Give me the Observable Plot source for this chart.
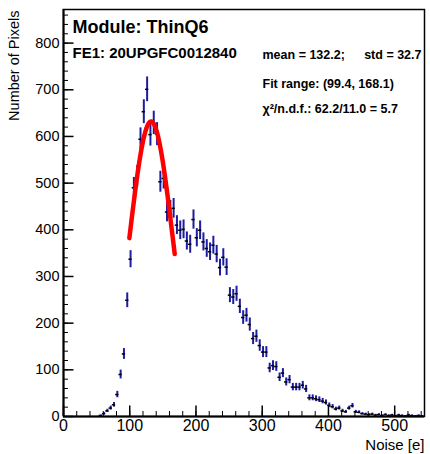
<!DOCTYPE html>
<html><head><meta charset="utf-8">
<script src="https://cdn.jsdelivr.net/npm/d3@7"></script>
<script src="https://cdn.jsdelivr.net/npm/@observablehq/plot@0.6"></script>
<style>body{margin:0;background:#fff} svg{display:block}</style>
</head><body><div id="chart"></div>
<script>
// Histogram of pixel noise (bin width 5 e)
const binCenters = [56.25,61.25,66.25,71.25,76.25,81.25,86.25,91.25,96.25,101.25,106.25,111.25,116.25,121.25,126.25,131.25,136.25,141.25,146.25,151.25,156.25,161.25,166.25,171.25,176.25,181.25,186.25,191.25,196.25,201.25,206.25,211.25,216.25,221.25,226.25,231.25,236.25,241.25,246.25,251.25,256.25,261.25,266.25,271.25,276.25,281.25,286.25,291.25,296.25,301.25,306.25,311.25,316.25,321.25,326.25,331.25,336.25,341.25,346.25,351.25,356.25,361.25,366.25,371.25,376.25,381.25,386.25,391.25,396.25,401.25,406.25,411.25,416.25,421.25,426.25,431.25,436.25,441.25,446.25,451.25,456.25,461.25,466.25,471.25,476.25,481.25,486.25,491.25,496.25,501.25,506.25,511.25,516.25,521.25,526.25,531.25,536.25,541.25];
const counts = [2,6,12,18,25,47,90,134,249,337,490,515,594,653,701,604,629,605,503,510,438,442,446,410,399,401,376,369,422,383,399,374,360,353,367,348,319,341,320,260,256,263,236,212,217,197,167,172,152,138,138,104,109,107,84,93,74,79,63,63,63,67,59,40,40,38,36,33,30,24,21,16,18,12,10,18,23,10,9,6,5,4,5,3,4,2,4,2,3,1,3,2,1,3,2,1,2,1];
const binWidth = 5;

const xMajorTicks = [0,100,200,300,400,500];
const xMinorTicks = d3.range(0, 545, 20);
const yMajorTicks = [0,100,200,300,400,500,600,700,800];
const yMinorTicks = d3.range(0, 872, 20);

const fitMean = 132.2, fitStd = 32.7, fitAmp = 632, fitRange = [99.4, 168.1];
const title = "Module: ThinQ6";
const feLabel = "FE1: 20UPGFC0012840";
const statText1 = "mean = 132.2;";
const statText2 = "std = 32.7";
const fitText = "Fit range: (99.4, 168.1)";
const chiText = "\u03C7\u00B2/n.d.f.: 62.2/11.0 = 5.7";

const W = 430, H = 454, ML = 63, MR = 6, MT = 9, MB = 38;
const xMax = 545, yMax = 872;
const pxPerX = (W - ML - MR) / xMax, pxPerY = (H - MT - MB) / yMax;

const hist = binCenters.map((c, i) => ({c, n: counts[i], e: Math.sqrt(counts[i])}));
const fit = d3.range(fitRange[0], fitRange[1] + 0.01, 0.5).map(x => ({x, y: fitAmp * Math.exp(-((x - fitMean) ** 2) / (2 * fitStd * fitStd))}));

const font = "'Liberation Sans', Arial, Helvetica, sans-serif";

const chart = Plot.plot({
  width: W, height: H,
  marginLeft: ML, marginRight: MR, marginTop: MT, marginBottom: MB,
  style: {fontFamily: font, background: "white", color: "black"},
  x: {domain: [0, xMax]},
  y: {domain: [0, yMax]},
  marks: [
    // error bars
    Plot.ruleX(hist, {x: "c", y1: d => Math.max(0, d.n - d.e), y2: d => d.n + d.e, stroke: "#1c1ca0", strokeWidth: 2}),
    Plot.ruleY(hist, {y: "n", x1: d => d.c - binWidth / 2, x2: d => d.c + binWidth / 2, stroke: "black", strokeWidth: 1.5}),
    // fit
    Plot.line(fit, {x: "x", y: "y", stroke: "#ff0000", strokeWidth: 4.5, curve: "linear"}),
    // ticks (inward, ROOT style)
    Plot.ruleY(yMinorTicks, {y: d => d, x1: 0, x2: 5 / pxPerX, stroke: "black", strokeWidth: 1}),
    Plot.ruleY(yMajorTicks, {y: d => d, x1: 0, x2: 10.5 / pxPerX, stroke: "black", strokeWidth: 1.5}),
    Plot.ruleX(xMinorTicks, {x: d => d, y1: 0, y2: 5 / pxPerY, stroke: "black", strokeWidth: 1}),
    Plot.ruleX(xMajorTicks, {x: d => d, y1: 0, y2: 10.5 / pxPerY, stroke: "black", strokeWidth: 1.5}),
    Plot.frame({stroke: "black", strokeWidth: 1.5}),
    Plot.ruleX([0], {stroke: "black", strokeWidth: 2}),
    Plot.ruleY([0], {stroke: "black", strokeWidth: 2}),
    // axes labels
    Plot.axisY({ticks: yMajorTicks, tickSize: 0, tickPadding: 4, fontSize: 14.5, label: null}),
    Plot.axisX({ticks: xMajorTicks, tickSize: 0, tickPadding: 3, fontSize: 16, label: null}),
    Plot.text([ "Number of Pixels" ], {frameAnchor: "top-left", text: d => d, rotate: -90, textAnchor: "end", lineAnchor: "middle", dx: -49, dy: 1, fontSize: 14.5}),
    Plot.text([ "Noise [e]" ], {frameAnchor: "bottom-right", text: d => d, textAnchor: "end", lineAnchor: "middle", dx: 0, dy: 29, fontSize: 15}),
    // annotations
    Plot.text([title], {frameAnchor: "top-left", text: d => d, textAnchor: "start", lineAnchor: "middle", dx: 9, dy: 18, fontSize: 18, fontWeight: "bold"}),
    Plot.text([feLabel], {frameAnchor: "top-left", text: d => d, textAnchor: "start", lineAnchor: "middle", dx: 9, dy: 44, fontSize: 15, fontWeight: "bold"}),
    Plot.text([statText1], {frameAnchor: "top-left", text: d => d, textAnchor: "start", lineAnchor: "middle", dx: 199, dy: 45, fontSize: 12.5, fontWeight: "bold"}),
    Plot.text([statText2], {frameAnchor: "top-right", text: d => d, textAnchor: "end", lineAnchor: "middle", dx: -3, dy: 45, fontSize: 12.5, fontWeight: "bold"}),
    Plot.text([fitText], {frameAnchor: "top-left", text: d => d, textAnchor: "start", lineAnchor: "middle", dx: 199, dy: 74, fontSize: 12.5, fontWeight: "bold"}),
    Plot.text([chiText], {frameAnchor: "top-left", text: d => d, textAnchor: "start", lineAnchor: "middle", dx: 199, dy: 99, fontSize: 12.5, fontWeight: "bold"})
  ]
});
document.getElementById("chart").append(chart);
</script>
</body></html>
